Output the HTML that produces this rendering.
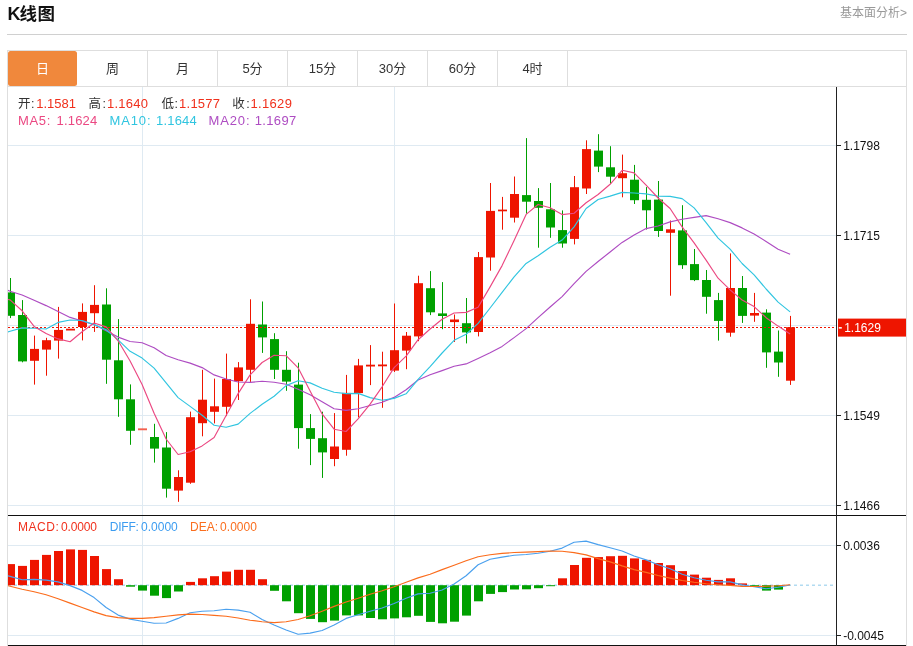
<!DOCTYPE html>
<html lang="zh-CN">
<head>
<meta charset="utf-8">
<title>K线图</title>
<style>
html,body{margin:0;padding:0;background:#fff;}
body{width:913px;height:646px;position:relative;overflow:hidden;font-family:"Liberation Sans","Noto Sans CJK SC",sans-serif;color:#333;}
.title{position:absolute;left:7.5px;top:2px;font-size:17.5px;letter-spacing:0.5px;font-weight:bold;line-height:24px;color:#111;white-space:nowrap;}
.more{position:absolute;right:6px;top:5px;font-size:12px;line-height:16px;color:#999;white-space:nowrap;}
.hr{position:absolute;left:7px;top:34px;width:900px;height:1px;background:#d0d0d0;}
.box{position:absolute;left:7px;top:50px;width:898px;height:600px;border:1px solid #dedede;border-bottom:none;}
.tabline{position:absolute;left:8px;top:86px;width:898px;height:1px;background:#dedede;}
.tab{position:absolute;top:51px;width:69px;height:35px;line-height:35px;text-align:center;font-size:13px;color:#333;border-right:1px solid #dedede;}
.tab.on{background:#f0883c;color:#fff;border-right:none;width:69px;border-radius:2.5px;}
.lg{position:absolute;white-space:nowrap;line-height:16px;}
.ax{position:absolute;left:843.2px;font-size:12px;letter-spacing:0;line-height:16px;color:#111;white-space:nowrap;}
.r{color:#f0321e;}
</style>
</head>
<body>
<div class="title"><span style="font-size:18px;letter-spacing:-1px">K</span>线图</div>
<div class="more">基本面分析&gt;</div>
<div class="hr"></div>
<div class="box"></div>
<div class="tab on" style="left:8px">日</div><div class="tab" style="left:78px">周</div><div class="tab" style="left:148px">月</div><div class="tab" style="left:218px">5分</div><div class="tab" style="left:288px">15分</div><div class="tab" style="left:358px">30分</div><div class="tab" style="left:428px">60分</div><div class="tab" style="left:498px">4时</div>
<div class="tabline"></div>
<svg width="913" height="646" viewBox="0 0 913 646" style="position:absolute;left:0;top:0"><defs><clipPath id="cp"><rect x="8" y="87" width="828" height="559"/></clipPath></defs><g shape-rendering="crispEdges" fill="#dfeaf2"><rect x="8" y="145" width="828" height="1"/><rect x="8" y="235" width="828" height="1"/><rect x="8" y="325" width="828" height="1"/><rect x="8" y="415" width="828" height="1"/><rect x="8" y="505" width="828" height="1"/><rect x="8" y="545" width="828" height="1"/><rect x="8" y="635" width="828" height="1"/><rect x="142" y="87" width="1" height="558"/><rect x="394" y="87" width="1" height="558"/></g><line x1="8" y1="585.25" x2="833" y2="585.25" stroke="#b2dbf1" stroke-width="1.7" stroke-dasharray="3 3"/><g clip-path="url(#cp)"><g><rect x="10" y="278.0" width="1" height="40.1" fill="#00a000"/><rect x="6" y="292.4" width="9" height="23.4" fill="#00a000"/><rect x="22" y="300.1" width="1" height="62.2" fill="#00a000"/><rect x="18" y="315.0" width="9" height="46.4" fill="#00a000"/><rect x="34" y="335.6" width="1" height="49.0" fill="#ee1500"/><rect x="30" y="348.9" width="9" height="11.9" fill="#ee1500"/><rect x="46" y="337.8" width="1" height="37.9" fill="#ee1500"/><rect x="42" y="340.2" width="9" height="9.4" fill="#ee1500"/><rect x="58" y="306.9" width="1" height="51.7" fill="#ee1500"/><rect x="54" y="329.9" width="9" height="10.7" fill="#ee1500"/><rect x="70" y="329.0" width="1" height="1.0" fill="#ee1500"/><rect x="66" y="328.70" width="9" height="1.8" fill="#ee1500" shape-rendering="auto"/><rect x="82" y="303.4" width="1" height="37.0" fill="#ee1500"/><rect x="78" y="311.9" width="9" height="15.1" fill="#ee1500"/><rect x="94" y="285.2" width="1" height="46.7" fill="#ee1500"/><rect x="90" y="304.9" width="9" height="8.3" fill="#ee1500"/><rect x="106" y="288.3" width="1" height="95.5" fill="#00a000"/><rect x="102" y="304.5" width="9" height="55.2" fill="#00a000"/><rect x="118" y="319.1" width="1" height="97.7" fill="#00a000"/><rect x="114" y="360.3" width="9" height="39.0" fill="#00a000"/><rect x="130" y="384.4" width="1" height="60.4" fill="#00a000"/><rect x="126" y="399.3" width="9" height="31.5" fill="#00a000"/><rect x="138" y="428.35" width="9" height="1.9" fill="#f3604e" shape-rendering="auto"/><rect x="154" y="423.8" width="1" height="38.8" fill="#00a000"/><rect x="150" y="437.0" width="9" height="11.6" fill="#00a000"/><rect x="166" y="432.1" width="1" height="65.5" fill="#00a000"/><rect x="162" y="447.5" width="9" height="41.2" fill="#00a000"/><rect x="178" y="470.3" width="1" height="31.5" fill="#ee1500"/><rect x="174" y="477.0" width="9" height="13.6" fill="#ee1500"/><rect x="190" y="411.6" width="1" height="72.2" fill="#ee1500"/><rect x="186" y="417.2" width="9" height="65.5" fill="#ee1500"/><rect x="202" y="369.8" width="1" height="66.5" fill="#ee1500"/><rect x="198" y="399.7" width="9" height="23.5" fill="#ee1500"/><rect x="214" y="378.6" width="1" height="44.8" fill="#ee1500"/><rect x="210" y="406.3" width="9" height="5.5" fill="#ee1500"/><rect x="226" y="353.6" width="1" height="62.5" fill="#ee1500"/><rect x="222" y="379.0" width="9" height="27.8" fill="#ee1500"/><rect x="238" y="362.1" width="1" height="37.9" fill="#ee1500"/><rect x="234" y="367.4" width="9" height="13.8" fill="#ee1500"/><rect x="250" y="299.3" width="1" height="82.6" fill="#ee1500"/><rect x="246" y="323.8" width="9" height="46.0" fill="#ee1500"/><rect x="262" y="301.5" width="1" height="51.4" fill="#00a000"/><rect x="258" y="324.5" width="9" height="12.9" fill="#00a000"/><rect x="274" y="333.2" width="1" height="45.8" fill="#00a000"/><rect x="270" y="339.1" width="9" height="30.7" fill="#00a000"/><rect x="286" y="351.2" width="1" height="39.6" fill="#00a000"/><rect x="282" y="369.8" width="9" height="11.8" fill="#00a000"/><rect x="298" y="362.7" width="1" height="86.0" fill="#00a000"/><rect x="294" y="384.6" width="9" height="43.5" fill="#00a000"/><rect x="310" y="414.1" width="1" height="51.0" fill="#00a000"/><rect x="306" y="428.1" width="9" height="10.8" fill="#00a000"/><rect x="322" y="411.7" width="1" height="66.2" fill="#00a000"/><rect x="318" y="438.2" width="9" height="14.2" fill="#00a000"/><rect x="334" y="413.1" width="1" height="53.1" fill="#ee1500"/><rect x="330" y="446.5" width="9" height="12.5" fill="#ee1500"/><rect x="346" y="374.9" width="1" height="80.8" fill="#ee1500"/><rect x="342" y="392.9" width="9" height="56.9" fill="#ee1500"/><rect x="358" y="358.9" width="1" height="58.5" fill="#ee1500"/><rect x="354" y="365.4" width="9" height="27.7" fill="#ee1500"/><rect x="370" y="345.1" width="1" height="40.0" fill="#ee1500"/><rect x="366" y="364.70" width="9" height="1.8" fill="#ee1500" shape-rendering="auto"/><rect x="382" y="351.7" width="1" height="56.1" fill="#ee1500"/><rect x="378" y="364.50" width="9" height="1.8" fill="#ee1500" shape-rendering="auto"/><rect x="394" y="303.5" width="1" height="68.5" fill="#ee1500"/><rect x="390" y="350.2" width="9" height="20.4" fill="#ee1500"/><rect x="406" y="332.0" width="1" height="37.2" fill="#ee1500"/><rect x="402" y="335.7" width="9" height="14.9" fill="#ee1500"/><rect x="418" y="275.7" width="1" height="65.5" fill="#ee1500"/><rect x="414" y="283.2" width="9" height="53.2" fill="#ee1500"/><rect x="430" y="271.1" width="1" height="44.0" fill="#00a000"/><rect x="426" y="288.2" width="9" height="24.1" fill="#00a000"/><rect x="442" y="282.1" width="1" height="47.1" fill="#00a000"/><rect x="438" y="313.4" width="9" height="2.6" fill="#00a000"/><rect x="454" y="314.5" width="1" height="27.4" fill="#ee1500"/><rect x="450" y="319.5" width="9" height="2.6" fill="#ee1500"/><rect x="466" y="298.0" width="1" height="45.4" fill="#00a000"/><rect x="462" y="323.2" width="9" height="9.2" fill="#00a000"/><rect x="478" y="252.0" width="1" height="84.4" fill="#ee1500"/><rect x="474" y="257.1" width="9" height="74.9" fill="#ee1500"/><rect x="490" y="183.0" width="1" height="87.7" fill="#ee1500"/><rect x="486" y="210.9" width="9" height="46.6" fill="#ee1500"/><rect x="502" y="196.9" width="1" height="32.8" fill="#ee1500"/><rect x="498" y="209.6" width="9" height="1.7" fill="#ee1500"/><rect x="514" y="176.5" width="1" height="46.0" fill="#ee1500"/><rect x="510" y="194.0" width="9" height="23.7" fill="#ee1500"/><rect x="526" y="138.1" width="1" height="75.6" fill="#00a000"/><rect x="522" y="195.1" width="9" height="6.6" fill="#00a000"/><rect x="538" y="188.1" width="1" height="59.6" fill="#00a000"/><rect x="534" y="201.0" width="9" height="6.8" fill="#00a000"/><rect x="550" y="183.0" width="1" height="54.8" fill="#00a000"/><rect x="546" y="209.3" width="9" height="18.2" fill="#00a000"/><rect x="562" y="210.4" width="1" height="37.3" fill="#00a000"/><rect x="558" y="230.1" width="9" height="13.4" fill="#00a000"/><rect x="574" y="176.0" width="1" height="68.4" fill="#ee1500"/><rect x="570" y="187.2" width="9" height="51.7" fill="#ee1500"/><rect x="586" y="140.3" width="1" height="53.7" fill="#ee1500"/><rect x="582" y="149.1" width="9" height="39.4" fill="#ee1500"/><rect x="598" y="134.2" width="1" height="37.9" fill="#00a000"/><rect x="594" y="150.6" width="9" height="16.0" fill="#00a000"/><rect x="610" y="146.2" width="1" height="37.5" fill="#00a000"/><rect x="606" y="167.3" width="9" height="9.4" fill="#00a000"/><rect x="622" y="154.6" width="1" height="42.7" fill="#ee1500"/><rect x="618" y="173.2" width="9" height="5.0" fill="#ee1500"/><rect x="634" y="164.9" width="1" height="39.1" fill="#00a000"/><rect x="630" y="179.7" width="9" height="20.5" fill="#00a000"/><rect x="646" y="187.1" width="1" height="42.4" fill="#00a000"/><rect x="642" y="199.8" width="9" height="10.5" fill="#00a000"/><rect x="658" y="181.0" width="1" height="55.9" fill="#00a000"/><rect x="654" y="199.6" width="9" height="31.4" fill="#00a000"/><rect x="670" y="220.5" width="1" height="75.2" fill="#ee1500"/><rect x="666" y="229.3" width="9" height="3.5" fill="#ee1500"/><rect x="682" y="205.2" width="1" height="63.7" fill="#00a000"/><rect x="678" y="230.4" width="9" height="34.8" fill="#00a000"/><rect x="694" y="249.0" width="1" height="32.1" fill="#00a000"/><rect x="690" y="264.1" width="9" height="16.0" fill="#00a000"/><rect x="706" y="270.0" width="1" height="43.7" fill="#00a000"/><rect x="702" y="280.0" width="9" height="16.8" fill="#00a000"/><rect x="718" y="292.9" width="1" height="47.7" fill="#00a000"/><rect x="714" y="300.1" width="9" height="20.8" fill="#00a000"/><rect x="730" y="253.4" width="1" height="83.3" fill="#ee1500"/><rect x="726" y="288.0" width="9" height="44.7" fill="#ee1500"/><rect x="742" y="276.0" width="1" height="46.9" fill="#00a000"/><rect x="738" y="288.0" width="9" height="27.9" fill="#00a000"/><rect x="754" y="292.9" width="1" height="28.9" fill="#ee1500"/><rect x="750" y="313.0" width="9" height="2.6" fill="#ee1500"/><rect x="766" y="309.3" width="1" height="58.5" fill="#00a000"/><rect x="762" y="312.6" width="9" height="39.8" fill="#00a000"/><rect x="778" y="330.5" width="1" height="46.3" fill="#00a000"/><rect x="774" y="351.6" width="9" height="10.9" fill="#00a000"/><rect x="790" y="315.9" width="1" height="69.0" fill="#ee1500"/><rect x="786" y="327.2" width="9" height="53.5" fill="#ee1500"/><rect x="6" y="564.1" width="9" height="21.1" fill="#ee1500"/><rect x="18" y="565.9" width="9" height="19.3" fill="#ee1500"/><rect x="30" y="559.9" width="9" height="25.3" fill="#ee1500"/><rect x="42" y="554.9" width="9" height="30.3" fill="#ee1500"/><rect x="54" y="551.0" width="9" height="34.2" fill="#ee1500"/><rect x="66" y="549.4" width="9" height="35.8" fill="#ee1500"/><rect x="78" y="549.9" width="9" height="35.3" fill="#ee1500"/><rect x="90" y="556.0" width="9" height="29.2" fill="#ee1500"/><rect x="102" y="569.1" width="9" height="16.1" fill="#ee1500"/><rect x="114" y="579.2" width="9" height="6.0" fill="#ee1500"/><rect x="126" y="585.2" width="9" height="1.5" fill="#00a000"/><rect x="138" y="585.2" width="9" height="5.4" fill="#00a000"/><rect x="150" y="585.2" width="9" height="10.5" fill="#00a000"/><rect x="162" y="585.2" width="9" height="12.9" fill="#00a000"/><rect x="174" y="585.2" width="9" height="6.3" fill="#00a000"/><rect x="186" y="581.9" width="9" height="3.3" fill="#ee1500"/><rect x="198" y="578.3" width="9" height="6.9" fill="#ee1500"/><rect x="210" y="576.2" width="9" height="9.0" fill="#ee1500"/><rect x="222" y="571.6" width="9" height="13.6" fill="#ee1500"/><rect x="234" y="569.8" width="9" height="15.4" fill="#ee1500"/><rect x="246" y="569.8" width="9" height="15.4" fill="#ee1500"/><rect x="258" y="579.2" width="9" height="6.0" fill="#ee1500"/><rect x="270" y="585.2" width="9" height="5.6" fill="#00a000"/><rect x="282" y="585.2" width="9" height="16.1" fill="#00a000"/><rect x="294" y="585.2" width="9" height="28.0" fill="#00a000"/><rect x="306" y="585.2" width="9" height="33.7" fill="#00a000"/><rect x="318" y="585.2" width="9" height="37.0" fill="#00a000"/><rect x="330" y="585.2" width="9" height="35.4" fill="#00a000"/><rect x="342" y="585.2" width="9" height="30.2" fill="#00a000"/><rect x="354" y="585.2" width="9" height="30.2" fill="#00a000"/><rect x="366" y="585.2" width="9" height="32.8" fill="#00a000"/><rect x="378" y="585.2" width="9" height="34.1" fill="#00a000"/><rect x="390" y="585.2" width="9" height="33.2" fill="#00a000"/><rect x="402" y="585.2" width="9" height="32.1" fill="#00a000"/><rect x="414" y="585.2" width="9" height="30.6" fill="#00a000"/><rect x="426" y="585.2" width="9" height="36.7" fill="#00a000"/><rect x="438" y="585.2" width="9" height="38.1" fill="#00a000"/><rect x="450" y="585.2" width="9" height="36.5" fill="#00a000"/><rect x="462" y="585.2" width="9" height="30.4" fill="#00a000"/><rect x="474" y="585.2" width="9" height="16.1" fill="#00a000"/><rect x="486" y="585.2" width="9" height="8.7" fill="#00a000"/><rect x="498" y="585.2" width="9" height="6.9" fill="#00a000"/><rect x="510" y="585.2" width="9" height="4.3" fill="#00a000"/><rect x="522" y="585.2" width="9" height="4.1" fill="#00a000"/><rect x="534" y="585.2" width="9" height="3.0" fill="#00a000"/><rect x="546" y="585.2" width="9" height="1.0" fill="#00a000"/><rect x="558" y="578.3" width="9" height="6.9" fill="#ee1500"/><rect x="570" y="565.0" width="9" height="20.2" fill="#ee1500"/><rect x="582" y="557.8" width="9" height="27.4" fill="#ee1500"/><rect x="594" y="557.1" width="9" height="28.1" fill="#ee1500"/><rect x="606" y="556.2" width="9" height="29.0" fill="#ee1500"/><rect x="618" y="555.8" width="9" height="29.4" fill="#ee1500"/><rect x="630" y="558.4" width="9" height="26.8" fill="#ee1500"/><rect x="642" y="559.9" width="9" height="25.3" fill="#ee1500"/><rect x="654" y="563.0" width="9" height="22.2" fill="#ee1500"/><rect x="666" y="565.2" width="9" height="20.0" fill="#ee1500"/><rect x="678" y="571.1" width="9" height="14.1" fill="#ee1500"/><rect x="690" y="574.6" width="9" height="10.6" fill="#ee1500"/><rect x="702" y="577.7" width="9" height="7.5" fill="#ee1500"/><rect x="714" y="579.9" width="9" height="5.3" fill="#ee1500"/><rect x="726" y="578.3" width="9" height="6.9" fill="#ee1500"/><rect x="738" y="583.4" width="9" height="1.8" fill="#ee1500"/><rect x="750" y="585.2" width="9" height="1.2" fill="#00a000"/><rect x="762" y="585.2" width="9" height="5.4" fill="#00a000"/><rect x="774" y="585.2" width="9" height="4.4" fill="#00a000"/></g><line x1="8" y1="327.5" x2="838" y2="327.5" stroke="#ee1500" stroke-width="1" stroke-dasharray="2 2" shape-rendering="crispEdges"/><polyline points="-1.9,286.4 10.1,291.2 22.1,295.0 34.1,300.3 46.1,305.6 58.1,311.5 70.1,317.4 82.1,321.0 94.1,324.6 106.1,330.8 118.1,337.1 130.1,341.5 142.1,342.8 154.1,347.8 166.1,355.5 178.1,359.7 190.1,363.1 202.1,367.6 214.1,374.9 226.1,379.0 238.1,382.0 250.1,382.4 262.1,381.2 274.1,382.2 286.1,384.3 298.1,389.2 310.1,394.7 322.1,401.7 334.1,408.8 346.1,410.4 358.1,408.7 370.1,405.5 382.1,402.3 394.1,397.4 406.1,389.7 418.1,380.0 430.1,374.8 442.1,370.6 454.1,366.2 466.1,363.9 478.1,358.4 490.1,352.8 502.1,346.4 514.1,337.6 526.1,328.6 538.1,317.6 550.1,307.0 562.1,296.6 574.1,283.6 586.1,271.4 598.1,261.5 610.1,252.0 622.1,242.4 634.1,234.9 646.1,228.6 658.1,226.0 670.1,221.9 682.1,219.3 694.1,217.4 706.1,215.6 718.1,218.8 730.1,222.6 742.1,227.9 754.1,233.9 766.1,241.4 778.1,249.2 790.1,254.2" fill="none" stroke="#ae4cc2" stroke-width="1.15" stroke-linejoin="round"/><polyline points="-1.9,334.7 10.1,331.2 22.1,327.9 34.1,328.3 46.1,329.0 58.1,322.4 70.1,320.0 82.1,320.5 94.1,324.6 106.1,329.7 118.1,339.8 130.1,351.3 142.1,358.1 154.1,368.1 166.1,382.9 178.1,397.6 190.1,406.4 202.1,415.2 214.1,425.3 226.1,427.3 238.1,424.1 250.1,413.4 262.1,404.2 274.1,396.3 286.1,385.6 298.1,380.7 310.1,382.9 322.1,388.2 334.1,392.2 346.1,393.6 358.1,393.4 370.1,397.6 382.1,400.3 394.1,398.4 406.1,393.8 418.1,379.3 430.1,366.6 442.1,353.0 454.1,340.3 466.1,334.2 478.1,323.4 490.1,308.0 502.1,292.4 514.1,276.8 526.1,263.4 538.1,255.8 550.1,247.3 562.1,240.1 574.1,226.9 586.1,208.5 598.1,199.5 610.1,196.1 622.1,192.4 634.1,193.0 646.1,193.9 658.1,196.2 670.1,196.4 682.1,198.6 694.1,207.9 706.1,222.6 718.1,238.1 730.1,249.2 742.1,263.5 754.1,274.8 766.1,289.0 778.1,302.1 790.1,311.9" fill="none" stroke="#30c5e0" stroke-width="1.15" stroke-linejoin="round"/><polyline points="-1.9,297.5 10.1,299.9 22.1,310.8 34.1,326.4 46.1,333.4 58.1,338.9 70.1,341.7 82.1,331.8 94.1,323.0 106.1,326.9 118.1,340.8 130.1,361.0 142.1,384.5 154.1,413.2 166.1,439.0 178.1,454.5 190.1,451.8 202.1,445.9 214.1,437.5 226.1,415.5 238.1,393.6 250.1,374.9 262.1,362.5 274.1,355.2 286.1,355.7 298.1,367.8 310.1,390.9 322.1,413.9 334.1,429.2 346.1,431.5 358.1,418.9 370.1,404.2 382.1,386.8 394.1,367.6 406.1,356.1 418.1,339.7 430.1,329.0 442.1,319.2 454.1,313.0 466.1,312.4 478.1,307.2 490.1,286.9 502.1,265.6 514.1,240.5 526.1,214.4 538.1,204.5 550.1,207.8 562.1,214.6 574.1,213.2 586.1,202.7 598.1,194.5 610.1,184.3 622.1,170.3 634.1,172.9 646.1,185.1 658.1,198.0 670.1,208.5 682.1,226.9 694.1,242.9 706.1,260.2 718.1,278.2 730.1,289.9 742.1,300.0 754.1,306.6 766.1,317.7 778.1,326.1 790.1,333.9" fill="none" stroke="#eb4882" stroke-width="1.15" stroke-linejoin="round"/><polyline points="-1.9,573.0 10.1,576.4 22.1,579.7 34.1,579.4 46.1,580.1 58.1,581.9 70.1,585.6 82.1,590.4 94.1,597.6 106.1,607.5 118.1,615.1 130.1,619.1 142.1,621.3 154.1,623.3 166.1,623.0 178.1,618.4 190.1,612.7 202.1,611.2 214.1,610.8 226.1,609.2 238.1,610.1 250.1,612.3 262.1,619.5 274.1,625.0 286.1,630.0 298.1,634.2 310.1,633.1 322.1,630.5 334.1,625.0 346.1,618.4 358.1,614.7 370.1,611.2 382.1,608.0 394.1,603.5 406.1,598.3 418.1,593.9 430.1,593.2 442.1,590.0 454.1,584.0 466.1,575.7 478.1,564.8 490.1,559.3 502.1,557.1 514.1,555.3 526.1,554.5 538.1,553.2 550.1,551.2 562.1,548.1 574.1,542.2 586.1,541.1 598.1,544.6 610.1,547.7 622.1,551.0 634.1,556.0 646.1,559.9 658.1,564.8 670.1,568.7 682.1,574.2 694.1,577.7 706.1,580.3 718.1,581.9 730.1,581.9 742.1,584.9 754.1,586.8 766.1,588.7 778.1,587.3 790.1,585.0" fill="none" stroke="#4aa0ee" stroke-width="1.15" stroke-linejoin="round"/><polyline points="-1.9,583.2 10.1,586.2 22.1,589.3 34.1,591.7 46.1,594.8 58.1,598.7 70.1,603.1 82.1,607.5 94.1,611.9 106.1,615.6 118.1,617.6 130.1,618.4 142.1,618.4 154.1,617.6 166.1,616.2 178.1,614.9 190.1,614.1 202.1,614.5 214.1,615.4 226.1,616.2 238.1,618.0 250.1,620.2 262.1,621.7 274.1,622.6 286.1,621.7 298.1,619.5 310.1,615.8 322.1,611.2 334.1,606.4 346.1,602.0 358.1,598.3 370.1,594.3 382.1,590.7 394.1,586.7 406.1,582.3 418.1,577.9 430.1,574.2 442.1,569.6 454.1,565.2 466.1,560.8 478.1,556.7 490.1,554.7 502.1,553.4 514.1,552.5 526.1,552.1 538.1,551.6 550.1,551.0 562.1,551.2 574.1,552.6 586.1,554.9 598.1,558.6 610.1,561.9 622.1,565.9 634.1,569.6 646.1,572.4 658.1,575.5 670.1,578.1 682.1,580.5 694.1,582.3 706.1,583.8 718.1,584.7 730.1,585.4 742.1,586.4 754.1,586.5 766.1,586.3 778.1,585.8 790.1,584.7" fill="none" stroke="#fb6c1c" stroke-width="1.15" stroke-linejoin="round"/></g><g shape-rendering="crispEdges"><rect x="8" y="515" width="898" height="1" fill="#111"/><rect x="8" y="645" width="898" height="1" fill="#111"/><rect x="836" y="87" width="1" height="559" fill="#222"/><rect x="837" y="145" width="4" height="1" fill="#222"/><rect x="837" y="235" width="4" height="1" fill="#222"/><rect x="837" y="415" width="4" height="1" fill="#222"/><rect x="837" y="505" width="4" height="1" fill="#222"/><rect x="837" y="545" width="4" height="1" fill="#222"/><rect x="837" y="635" width="4" height="1" fill="#222"/></g><rect x="838" y="318.6" width="68" height="18" fill="#ee1500"/><rect x="838.8" y="327.1" width="3" height="1.5" fill="#fff"/><g></g></svg>
<span class="lg" style="left:17.9px;top:96px;font-size:12.5px;letter-spacing:0.6px;color:#333">开:</span>
<span class="lg" style="left:36.2px;top:96px;font-size:13px;letter-spacing:0.02px;color:#f0301c">1.1581</span>
<span class="lg" style="left:88.5px;top:96px;font-size:12.5px;letter-spacing:1.5px;color:#333">高:</span>
<span class="lg" style="left:106.9px;top:96px;font-size:13px;letter-spacing:0.26px;color:#f0301c">1.1640</span>
<span class="lg" style="left:161.4px;top:96px;font-size:12.5px;letter-spacing:0.6px;color:#333">低:</span>
<span class="lg" style="left:179.1px;top:96px;font-size:13px;letter-spacing:0.22px;color:#f0301c">1.1577</span>
<span class="lg" style="left:232.2px;top:96px;font-size:12.5px;letter-spacing:1.6px;color:#333">收:</span>
<span class="lg" style="left:250.6px;top:96px;font-size:13px;letter-spacing:0.3px;color:#f0301c">1.1629</span>
<span class="lg" style="left:17.9px;top:113px;font-size:13px;letter-spacing:0.7px;color:#eb4882">MA5:</span>
<span class="lg" style="left:56.6px;top:113px;font-size:13px;letter-spacing:0.16px;color:#eb4882">1.1624</span>
<span class="lg" style="left:109.5px;top:113px;font-size:13px;letter-spacing:0.88px;color:#30c5e0">MA10:</span>
<span class="lg" style="left:156.0px;top:113px;font-size:13px;letter-spacing:0.2px;color:#30c5e0">1.1644</span>
<span class="lg" style="left:208.6px;top:113px;font-size:13px;letter-spacing:0.85px;color:#ae4cc2">MA20:</span>
<span class="lg" style="left:254.7px;top:113px;font-size:13px;letter-spacing:0.36px;color:#ae4cc2">1.1697</span>
<span class="lg" style="left:18.0px;top:519px;font-size:12px;letter-spacing:0.53px;color:#f0301c">MACD:</span>
<span class="lg" style="left:61.0px;top:519px;font-size:12px;letter-spacing:-0.14px;color:#f0301c">0.0000</span>
<span class="lg" style="left:109.8px;top:519px;font-size:12px;letter-spacing:-0.22px;color:#3c9cf0">DIFF:</span>
<span class="lg" style="left:141.1px;top:519px;font-size:12px;letter-spacing:0.0px;color:#3c9cf0">0.0000</span>
<span class="lg" style="left:190.0px;top:519px;font-size:12px;letter-spacing:0.0px;color:#fa6e1e">DEA:</span>
<span class="lg" style="left:220.1px;top:519px;font-size:12px;letter-spacing:0.02px;color:#fa6e1e">0.0000</span>
<div class="ax" style="top:138px">1.1798</div><div class="ax" style="top:228px">1.1715</div><div class="ax" style="top:408px">1.1549</div><div class="ax" style="top:498px">1.1466</div><div class="ax" style="top:538px">0.0036</div><div class="ax" style="top:628px">-0.0045</div><div class="ax" style="top:320px;left:844.2px;letter-spacing:0;color:#fff">1.1629</div>
</body>
</html>
